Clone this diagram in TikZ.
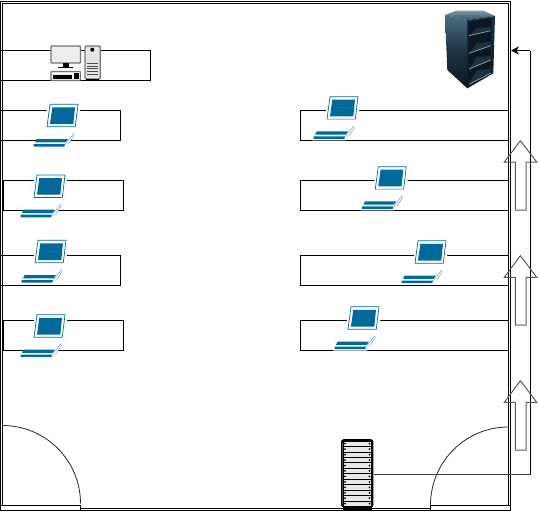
\documentclass[tikz,border=0pt]{standalone}
\usetikzlibrary{arrows.meta}
\definecolor{lapblue}{HTML}{03689A}
\definecolor{iconrim}{HTML}{757575}
\definecolor{arrowrim}{HTML}{5A5A5A}
\definecolor{rackA}{HTML}{4A6F84}
\definecolor{rackB}{HTML}{1C3242}
\definecolor{rackC}{HTML}{0B1722}
\definecolor{rackT}{HTML}{34505F}
\tikzset{
  wall/.style={draw=black,line width=0.9pt},
  desk/.style={draw=black,line width=0.9pt},
  swing/.style={draw=black!85,line width=0.8pt},
  blockarrow/.style={draw=arrowrim,line width=1pt,line join=miter},
  link/.style={draw=black!75,line width=0.9pt},
  laptop/.pic={
    \fill[white] (15,-1) -- (48,-1) -- (45,24) -- (12,24) -- cycle;
    \fill[white] (-1,44) -- (33,44) -- (43,28) -- (9,28) -- cycle;
    \draw[lapblue,line width=0.7pt,fill=white] (17,0.3) -- (45,0.3) -- (42.3,22.7) -- (14,22.7) -- cycle;
    \fill[lapblue] (19.3,3.3) -- (42,3.3) -- (40.3,20) -- (17,20) -- cycle;
    \fill[lapblue] (3.7,35) -- (35,35) -- (32.7,38.3) -- (2,38.3) -- cycle;
    \fill[lapblue] (0.5,40) -- (32,40) -- (31.3,42.7) -- (0.5,42.7) -- cycle;
    \draw[lapblue!70,line width=0.4pt] (32.5,40) -- (41,29) (35.5,40) -- (41.5,31);
  }
}
\begin{document}
\begin{tikzpicture}[x=1pt,y=-1pt]
\useasboundingbox (0,0) rectangle (539,512);
% desks
\draw[desk] (0,50.5) -- (150.5,50.5) -- (150.5,80.5) -- (0,80.5);
\draw[desk] (0,110.5) -- (120.5,110.5) -- (120.5,140.5) -- (0,140.5);
\draw[desk] (3,180.5) rectangle (123.5,210.5);
\draw[desk] (0,255.5) -- (120.5,255.5) -- (120.5,285.5) -- (0,285.5);
\draw[desk] (3,320.5) rectangle (123.5,350.5);
\foreach \yy in {110.5,180.5,255.5,320.5}
  \draw[desk] (508.5,\yy) -- (300.5,\yy) -- (300.5,\yy+30) -- (508.5,\yy+30);
% walls
\draw[wall] (0.5,510.3) -- (0.5,1) -- (510.5,1) -- (510.5,510.3) -- cycle;
\draw[wall] (2.5,505) -- (2.5,3) -- (508.5,3) -- (508.5,505);
\draw[wall] (80.5,508.3) -- (430.5,508.3);
% doors
\draw[wall] (0.5,505) -- (80.5,505) -- (80.5,510.3);
\draw[wall] (430.5,510.3) -- (430.5,505) -- (510.5,505);
\draw[swing] (2.5,425.5) arc[start angle=-90,end angle=0,radius=78];
\draw[swing] (430.5,505) arc[start angle=180,end angle=270,radius=78];
% laptops
\foreach \ox/\oy in {33/104,20/174.7,21/240,20/314.5,313/96.4,361.3/166.4,401/240.5,334/306.5}
  \pic at (\ox,\oy) {laptop};
% computer
\draw[iconrim,line width=1.4pt,fill=black!7,rounded corners=0.8pt] (51,46) rectangle (80.5,63);
\fill[black] (63.3,63.3) rectangle (69,67);
\fill[black] (58.3,66.6) rectangle (73.3,68);
\draw[iconrim,line width=1.3pt,fill=black!5,rounded corners=0.8pt] (51,71.5) rectangle (80.5,80.5);
\fill[black] (53.3,75) rectangle (72,79);
\fill[black] (74,73) rectangle (79,79);
\draw[iconrim,line width=1.3pt,fill=black!10,rounded corners=1.2pt] (85,46) rectangle (100.3,79);
\fill[black] (92.3,49.7) circle[radius=2];
\foreach \yy in {63.3,66,68.3,71,74} \draw[black!70,line width=0.9pt] (87.3,\yy) -- (98,\yy);
\fill[black] (86,78.7) rectangle (98.7,80.5);
% cabinet
\shade[top color=rackA,bottom color=rackC,middle color=rackB] (445,15) -- (467,20) -- (467.3,88.3) -- (447.3,70) -- cycle;
\shade[top color=rackA!70!white,bottom color=rackT] (445,15) -- (456.7,10.5) -- (483,10.5) -- (495,16) -- (467,20) -- cycle;
\shade[top color=rackB,bottom color=rackC] (467,20) -- (495,16) -- (493.3,73.3) -- (467.3,88.3) -- cycle;
\fill[rackC] (468.3,21.7) -- (491.7,18.3) -- (490,71.7) -- (469,85) -- cycle;
\foreach \la/\lb/\rb in {35.7/30.7/27,53.3/45.7/42,69/60/56,84.3/73.3/69}{
  \fill[rackB] (469,\la) -- (490.7,\lb) -- (490.7,\rb) -- (477,\rb+1) -- cycle;
  \draw[rackA!60!white,line width=0.7pt] (469,\la) -- (490.7,\lb);
}
% server
\node[minimum width=32.5pt,minimum height=70.7pt,inner sep=0pt,outer sep=0pt] (srv) at (357.25,474.65) {};
\draw[black,line width=1.6pt,fill=black!10,rounded corners=2pt] (341.8,440) rectangle (372.6,506.5);
\foreach \i in {0,...,11}{
  \draw[black,line width=0.8pt,fill=black!9] (343,441+\i*5.45) rectangle (371.5,441+\i*5.45+5.45);
  \fill[black] (345,443.7+\i*5.45) circle[radius=1];
  \fill[black] (369.5,443.7+\i*5.45) circle[radius=1];
}
\fill[black] (343.3,506.5) rectangle (371.7,510.3);
% connector
\coordinate (corner) at (530.3,50.5);
\coordinate (wallpt) at (511,50.5);
\coordinate (bend) at (corner |- srv.east);
\draw[link] (srv.east) -- (bend);
\draw[draw=black,line width=0.9pt] (bend) -- (corner);
\draw[draw=black,line width=0.9pt,-{Stealth[length=8pt,width=8pt]}] (corner) -- (wallpt);
% block arrows
\foreach \t/\b/\e in {380.7/402.3/450,140.7/162/210,255.7/277.3/325}
  \draw[blockarrow] (520.4,\t) -- (536.7,\b) -- (526,\b) -- (526,\e) -- (515.3,\e) -- (515.3,\b) -- (504.3,\b) -- cycle;
\end{tikzpicture}
\end{document}
